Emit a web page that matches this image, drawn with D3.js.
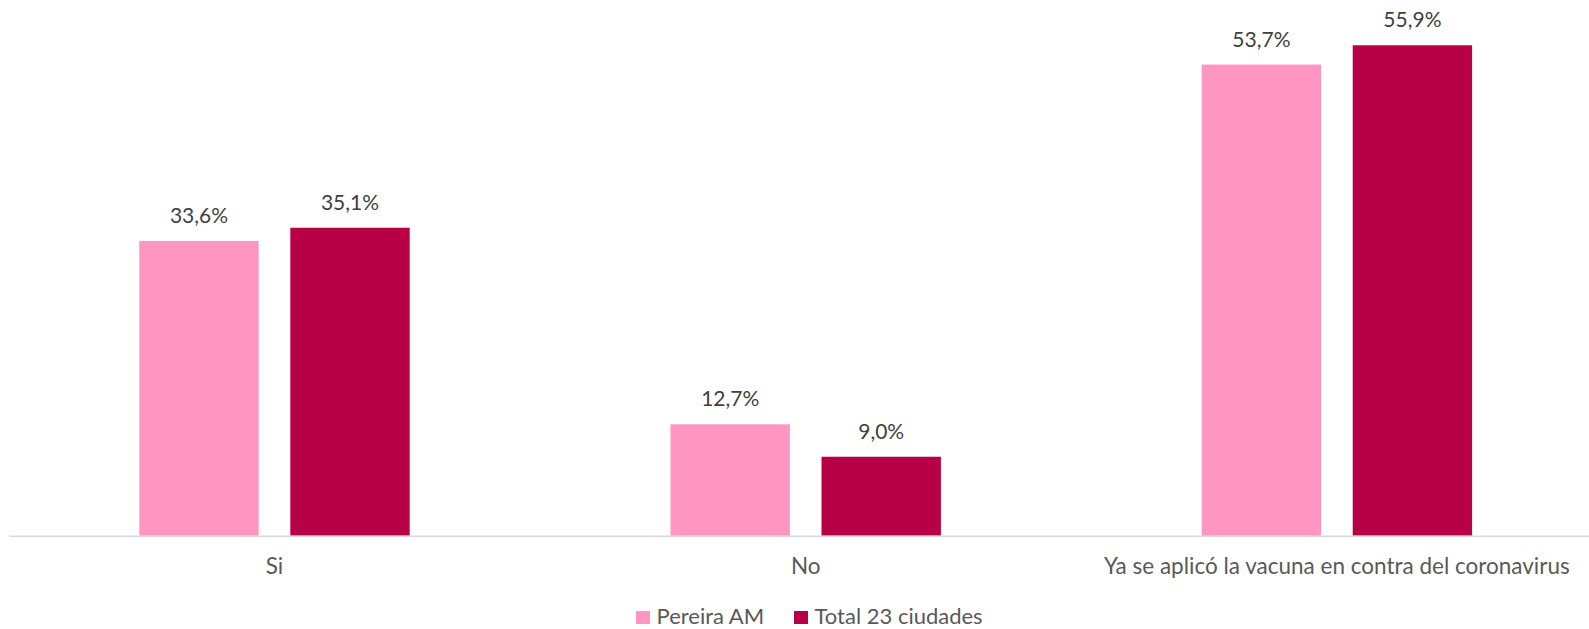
<!DOCTYPE html>
<html><head><meta charset="utf-8">
<script src="https://cdn.jsdelivr.net/npm/d3@7"></script>
<style>body{margin:0;background:#fff}svg{display:block}</style>
</head><body>
<svg id="c" width="1589" height="629"></svg>
<script>
const categories = ["Si", "No", "Ya se aplicó la vacuna en contra del coronavirus"];
const seriesNames = ["Pereira AM", "Total 23 ciudades"];
const pereira = [33.6, 12.7, 53.7];
const total23 = [35.1, 9.0, 55.9];
const colors = ["#FF96C1", "#B80047"];

const svg = d3.select("#c");
const FONT = "Lato, 'Liberation Sans', sans-serif";
const y = d3.scaleLinear().domain([0, 60]).range([535.7, 9.3]);
const x = d3.scaleBand().domain(categories).range([8.9, 1602.5]).paddingInner(0).paddingOuter(0);
const bandW = x.bandwidth();
const inner = d3.scaleBand().domain(seriesNames).range([bandW*0.2455, bandW*0.7545]).paddingInner(0.2094);

const series = [pereira, total23];
const g = svg.append("g");
series.forEach((vals, si) => {
  g.selectAll(null).data(categories).enter().append("rect")
    .attr("x", (c) => x(c) + inner(seriesNames[si]))
    .attr("width", inner.bandwidth())
    .attr("y", (c, i) => y(vals[i]))
    .attr("height", (c, i) => y(0) - y(vals[i]))
    .attr("fill", colors[si]);
  g.selectAll(null).data(categories).enter().append("text")
    .attr("x", (c) => x(c) + inner(seriesNames[si]) + inner.bandwidth()/2)
    .attr("y", (c, i) => y(vals[i]) - 18)
    .attr("text-anchor", "middle")
    .attr("font-family", FONT).attr("font-size", 21).attr("fill", "#404040")
    .text((c, i) => d3.format(".1f")(vals[i]).replace(".", ",") + "%");
});

// axis
const ax = svg.append("g").attr("transform", `translate(0,${y(0)})`)
  .call(d3.axisBottom(x).tickSize(0).tickPadding(22));
ax.select(".domain").attr("stroke", "#d9d9d9").attr("stroke-width", 1.5);
ax.selectAll("text").attr("font-family", FONT).attr("font-size", 22.5).attr("fill", "#595959");

// legend
const leg = svg.append("g");
const legItems = [{n: seriesNames[0], c: colors[0], x: 636}, {n: seriesNames[1], c: colors[1], x: 794}];
legItems.forEach(d => {
  leg.append("rect").attr("x", d.x).attr("y", 611).attr("width", 14).attr("height", 13).attr("fill", d.c);
  leg.append("text").attr("x", d.x + 20.5).attr("y", 623.5)
    .attr("font-family", FONT).attr("font-size", 22).attr("fill", "#595959").text(d.n);
});
</script>
</body></html>
